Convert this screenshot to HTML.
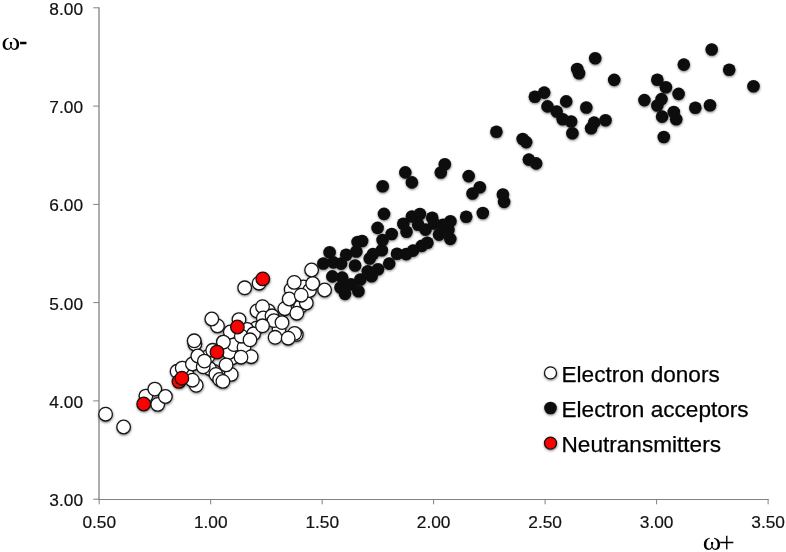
<!DOCTYPE html>
<html lang="en"><head><meta charset="utf-8"><title>Electrodonating vs electroaccepting power</title>
<style>
html,body{margin:0;padding:0;background:#fff;}
body{width:786px;height:552px;overflow:hidden;}
svg{display:block;}
.ax{stroke:#828282;stroke-width:1;fill:none;}
.tl{font-family:"Liberation Sans",Arial,sans-serif;font-size:17.3px;fill:#111;stroke:#111;stroke-width:0.2;}
.lg{font-family:"Liberation Sans",Arial,sans-serif;font-size:22.6px;fill:#000;stroke:#000;stroke-width:0.25;}
.sy{font-family:"Liberation Serif","Times New Roman",serif;font-size:25px;fill:#000;}
.w{fill:#fff;stroke:#161616;stroke-width:1.3;}
.r{fill:#f00;stroke:#111;stroke-width:1.3;}
.b{fill:#0a0a0a;stroke:none;}
</style></head><body>
<svg width="786" height="552" viewBox="0 0 786 552">
<defs><filter id="sh" x="-5%" y="-5%" width="110%" height="110%"><feDropShadow dx="0.3" dy="1.1" stdDeviation="0.9" flood-color="#000" flood-opacity="0.5"/></filter></defs>
<rect width="786" height="552" fill="#fff"/>
<g class="ax"><path d="M99 7.3V500" stroke-width="1.3"/><path d="M98.4 499.5H768.7"/><path d="M93.2 7.8H99M93.2 106.1H99M93.2 204.4H99M93.2 302.6H99M93.2 400.9H99M93.2 499.2H99M99.2 499.5V504.3M210.7 499.5V504.3M322.2 499.5V504.3M433.6 499.5V504.3M545.1 499.5V504.3M656.6 499.5V504.3M768.1 499.5V504.3"/></g>
<g class="tl" text-anchor="end"><text x="83.0" y="14.8">8.00</text><text x="83.0" y="113.1">7.00</text><text x="83.0" y="211.4">6.00</text><text x="83.0" y="309.6">5.00</text><text x="83.0" y="407.9">4.00</text><text x="83.0" y="506.2">3.00</text></g>
<g class="tl" text-anchor="middle"><text x="99.2" y="527.6">0.50</text><text x="210.7" y="527.6">1.00</text><text x="322.2" y="527.6">1.50</text><text x="433.6" y="527.6">2.00</text><text x="545.1" y="527.6">2.50</text><text x="656.6" y="527.6">3.00</text><text x="768.1" y="527.6">3.50</text></g>
<text class="sy" transform="translate(1.5 49.6) scale(1.14 1)" x="0" y="0">ω</text><text x="19.0" y="49.6" font-family="Liberation Sans,Arial,sans-serif" font-size="25px" stroke="#000" stroke-width="0.3">-</text>
<text class="sy" transform="translate(702.7 549.7) scale(1.12 1)" x="0" y="0">ω</text><text class="sy" x="718.8" y="551.9" style="font-size:28.4px">+</text>
<g filter="url(#sh)">
<g class="w"><circle cx="218.0" cy="377.0" r="6.8"/><circle cx="225.5" cy="372.0" r="6.8"/><circle cx="214.0" cy="371.5" r="6.8"/><circle cx="296.3" cy="334.6" r="6.8"/><circle cx="232.0" cy="358.0" r="6.8"/><circle cx="209.5" cy="368.5" r="6.8"/><circle cx="229.0" cy="352.5" r="6.8"/><circle cx="256.3" cy="328.2" r="6.8"/><circle cx="247.0" cy="329.5" r="6.8"/><circle cx="268.5" cy="311.0" r="6.8"/><circle cx="279.0" cy="329.5" r="6.8"/><circle cx="300.5" cy="306.5" r="6.8"/><circle cx="303.5" cy="287.0" r="6.8"/><circle cx="208.0" cy="356.5" r="6.8"/><circle cx="187.0" cy="374.5" r="6.8"/><circle cx="105.6" cy="414.2" r="6.8"/><circle cx="123.6" cy="427.0" r="6.8"/><circle cx="145.9" cy="396.1" r="6.8"/><circle cx="154.8" cy="389.1" r="6.8"/><circle cx="157.7" cy="404.4" r="6.8"/><circle cx="165.4" cy="396.5" r="6.8"/><circle cx="177.1" cy="371.3" r="6.8"/><circle cx="182.2" cy="368.1" r="6.8"/><circle cx="196.2" cy="385.3" r="6.8"/><circle cx="192.4" cy="380.2" r="6.8"/><circle cx="192.4" cy="364.0" r="6.8"/><circle cx="194.9" cy="344.0" r="6.8"/><circle cx="194.2" cy="340.8" r="6.8"/><circle cx="197.8" cy="356.0" r="6.8"/><circle cx="203.2" cy="366.8" r="6.8"/><circle cx="204.4" cy="361.1" r="6.8"/><circle cx="212.7" cy="350.3" r="6.8"/><circle cx="223.4" cy="342.1" r="6.8"/><circle cx="215.9" cy="374.4" r="6.8"/><circle cx="231.2" cy="374.4" r="6.8"/><circle cx="219.7" cy="379.5" r="6.8"/><circle cx="222.9" cy="381.4" r="6.8"/><circle cx="226.1" cy="364.9" r="6.8"/><circle cx="233.9" cy="344.6" r="6.8"/><circle cx="244.0" cy="347.2" r="6.8"/><circle cx="251.2" cy="356.7" r="6.8"/><circle cx="241.0" cy="357.2" r="6.8"/><circle cx="230.3" cy="332.0" r="6.8"/><circle cx="241.3" cy="336.2" r="6.8"/><circle cx="253.6" cy="333.8" r="6.8"/><circle cx="250.0" cy="339.8" r="6.8"/><circle cx="217.5" cy="325.9" r="6.8"/><circle cx="211.8" cy="319.0" r="6.8"/><circle cx="239.0" cy="319.6" r="6.8"/><circle cx="244.7" cy="287.8" r="6.8"/><circle cx="259.1" cy="283.2" r="6.8"/><circle cx="257.0" cy="311.0" r="6.8"/><circle cx="262.5" cy="306.7" r="6.8"/><circle cx="263.3" cy="318.0" r="6.8"/><circle cx="272.0" cy="315.8" r="6.8"/><circle cx="274.0" cy="320.6" r="6.8"/><circle cx="282.0" cy="322.6" r="6.8"/><circle cx="262.5" cy="325.8" r="6.8"/><circle cx="294.6" cy="333.4" r="6.8"/><circle cx="275.1" cy="337.3" r="6.8"/><circle cx="288.2" cy="338.2" r="6.8"/><circle cx="284.8" cy="308.7" r="6.8"/><circle cx="291.2" cy="289.4" r="6.8"/><circle cx="289.2" cy="299.0" r="6.8"/><circle cx="306.3" cy="303.0" r="6.8"/><circle cx="309.5" cy="290.5" r="6.8"/><circle cx="312.7" cy="283.5" r="6.8"/><circle cx="301.2" cy="295.2" r="6.8"/><circle cx="296.8" cy="313.2" r="6.8"/><circle cx="294.2" cy="282.4" r="6.8"/><circle cx="311.6" cy="270.0" r="6.8"/><circle cx="324.6" cy="290.0" r="6.8"/><circle cx="223.4" cy="342.1" r="6.8"/></g>
<g class="b"><circle cx="372.9" cy="254.1" r="6.3"/><circle cx="329.6" cy="252.2" r="6.3"/><circle cx="323.3" cy="263.5" r="6.3"/><circle cx="333.4" cy="262.4" r="6.3"/><circle cx="341.1" cy="263.6" r="6.3"/><circle cx="346.2" cy="254.7" r="6.3"/><circle cx="355.1" cy="265.5" r="6.3"/><circle cx="356.3" cy="251.5" r="6.3"/><circle cx="357.6" cy="242.0" r="6.3"/><circle cx="362.1" cy="241.0" r="6.3"/><circle cx="332.3" cy="276.4" r="6.3"/><circle cx="342.2" cy="277.6" r="6.3"/><circle cx="340.5" cy="287.5" r="6.3"/><circle cx="345.0" cy="293.9" r="6.3"/><circle cx="350.9" cy="284.4" r="6.3"/><circle cx="358.4" cy="291.3" r="6.3"/><circle cx="360.3" cy="279.5" r="6.3"/><circle cx="369.7" cy="258.5" r="6.3"/><circle cx="367.8" cy="271.3" r="6.3"/><circle cx="371.6" cy="276.3" r="6.3"/><circle cx="378.0" cy="269.3" r="6.3"/><circle cx="381.8" cy="250.3" r="6.3"/><circle cx="382.6" cy="240.0" r="6.3"/><circle cx="389.2" cy="263.6" r="6.3"/><circle cx="391.7" cy="234.0" r="6.3"/><circle cx="397.0" cy="253.8" r="6.3"/><circle cx="406.2" cy="254.1" r="6.3"/><circle cx="413.0" cy="250.6" r="6.3"/><circle cx="406.5" cy="231.8" r="6.3"/><circle cx="382.7" cy="186.3" r="6.3"/><circle cx="405.3" cy="172.4" r="6.3"/><circle cx="411.9" cy="182.4" r="6.3"/><circle cx="440.8" cy="172.5" r="6.3"/><circle cx="384.0" cy="213.9" r="6.3"/><circle cx="377.6" cy="227.9" r="6.3"/><circle cx="403.3" cy="223.8" r="6.3"/><circle cx="411.9" cy="216.5" r="6.3"/><circle cx="419.9" cy="214.0" r="6.3"/><circle cx="418.2" cy="224.8" r="6.3"/><circle cx="425.5" cy="229.6" r="6.3"/><circle cx="432.2" cy="217.8" r="6.3"/><circle cx="434.2" cy="223.5" r="6.3"/><circle cx="443.0" cy="224.8" r="6.3"/><circle cx="450.4" cy="221.3" r="6.3"/><circle cx="439.0" cy="234.6" r="6.3"/><circle cx="448.4" cy="230.0" r="6.3"/><circle cx="450.3" cy="238.9" r="6.3"/><circle cx="427.4" cy="242.7" r="6.3"/><circle cx="421.7" cy="245.9" r="6.3"/><circle cx="466.2" cy="216.7" r="6.3"/><circle cx="482.8" cy="213.0" r="6.3"/><circle cx="468.7" cy="176.1" r="6.3"/><circle cx="479.8" cy="187.2" r="6.3"/><circle cx="472.5" cy="193.5" r="6.3"/><circle cx="502.9" cy="194.5" r="6.3"/><circle cx="504.1" cy="201.9" r="6.3"/><circle cx="444.8" cy="164.2" r="6.3"/><circle cx="496.4" cy="131.8" r="6.3"/><circle cx="522.7" cy="139.0" r="6.3"/><circle cx="526.2" cy="142.1" r="6.3"/><circle cx="528.8" cy="159.6" r="6.3"/><circle cx="536.1" cy="163.4" r="6.3"/><circle cx="595.2" cy="58.3" r="6.3"/><circle cx="577.2" cy="69.0" r="6.3"/><circle cx="579.0" cy="73.3" r="6.3"/><circle cx="614.2" cy="79.9" r="6.3"/><circle cx="544.2" cy="92.6" r="6.3"/><circle cx="534.9" cy="96.7" r="6.3"/><circle cx="566.2" cy="101.4" r="6.3"/><circle cx="547.5" cy="106.4" r="6.3"/><circle cx="556.7" cy="111.6" r="6.3"/><circle cx="586.3" cy="107.5" r="6.3"/><circle cx="562.7" cy="119.2" r="6.3"/><circle cx="571.1" cy="121.5" r="6.3"/><circle cx="594.1" cy="122.6" r="6.3"/><circle cx="591.1" cy="128.2" r="6.3"/><circle cx="605.5" cy="120.3" r="6.3"/><circle cx="572.4" cy="133.2" r="6.3"/><circle cx="711.7" cy="49.5" r="6.3"/><circle cx="683.8" cy="64.6" r="6.3"/><circle cx="729.2" cy="69.7" r="6.3"/><circle cx="753.5" cy="86.3" r="6.3"/><circle cx="657.3" cy="79.7" r="6.3"/><circle cx="665.9" cy="87.3" r="6.3"/><circle cx="678.6" cy="93.9" r="6.3"/><circle cx="644.4" cy="100.1" r="6.3"/><circle cx="661.5" cy="99.1" r="6.3"/><circle cx="657.3" cy="105.5" r="6.3"/><circle cx="695.3" cy="107.7" r="6.3"/><circle cx="710.0" cy="105.3" r="6.3"/><circle cx="662.1" cy="116.6" r="6.3"/><circle cx="673.8" cy="112.0" r="6.3"/><circle cx="676.2" cy="119.3" r="6.3"/><circle cx="663.8" cy="137.0" r="6.3"/></g>
<g class="r"><circle cx="143.7" cy="404.0" r="6.8"/><circle cx="179.0" cy="381.4" r="6.8"/><circle cx="181.9" cy="378.2" r="6.8"/><circle cx="217.0" cy="352.1" r="6.8"/><circle cx="237.4" cy="327.0" r="6.8"/><circle cx="262.8" cy="278.9" r="6.8"/></g>
<circle class="w" cx="550.5" cy="372.9" r="6.0"/><circle class="b" cx="550.5" cy="408" r="6.3"/><circle class="r" cx="550.5" cy="443.1" r="6.0"/>
</g>
<g class="lg"><text x="561.5" y="382">Electron donors</text><text x="561.5" y="417.2">Electron acceptors</text><text x="561.5" y="452.3">Neutransmitters</text></g>
</svg>
</body></html>
